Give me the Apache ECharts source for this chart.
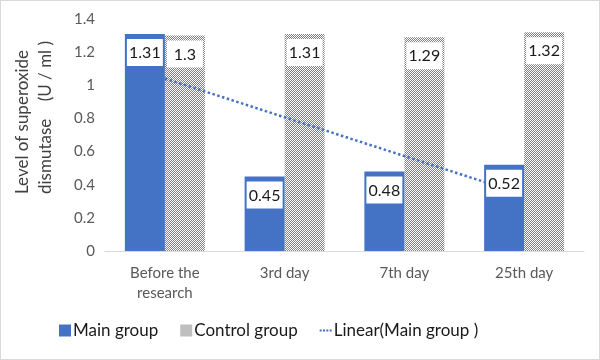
<!DOCTYPE html>
<html><head><meta charset="utf-8">
<script src="https://cdn.jsdelivr.net/npm/echarts@6/dist/echarts.min.js"></script>
<style>
html,body{margin:0;padding:0;background:#fff;}
#c{width:600px;height:360px;box-sizing:border-box;border:1px solid #d9d9d9;}
</style></head>
<body><div id="c"></div>
<script>
const categories = ['Before the\nresearch', '3rd day', '7th day', '25th day'];
const mainValues = [1.31, 0.45, 0.48, 0.52];
const controlValues = [1.3, 1.31, 1.29, 1.32];
const seriesNames = ['Main group', 'Control group', 'Linear(Main group )'];
const yAxisTitle = 'Level of superoxide\ndismutase    (U / ml )';

// least-squares linear trend of the main group
const n = mainValues.length;
const xs = mainValues.map((_, i) => i + 1);
const mx = xs.reduce((a, b) => a + b, 0) / n;
const my = mainValues.reduce((a, b) => a + b, 0) / n;
let sxy = 0, sxx = 0;
for (let i = 0; i < n; i++) { sxy += (xs[i] - mx) * (mainValues[i] - my); sxx += (xs[i] - mx) ** 2; }
const slope = sxy / sxx, icpt = my - slope * mx;
const trendValues = xs.map(x => +(icpt + slope * x).toFixed(4));

// dotted grey pattern
const pc = document.createElement('canvas');
pc.width = 2; pc.height = 2;
const pctx = pc.getContext('2d');
pctx.fillStyle = '#808080'; pctx.fillRect(0, 0, 2, 2);
pctx.fillStyle = '#ffffff'; pctx.fillRect(0, 0, 1, 1); pctx.fillRect(1, 1, 1, 1);
const patternFill = { image: pc, repeat: 'repeat' };

const FONT = 'Lato, "Liberation Sans", sans-serif';
const labelStyle = {
  show: true, position: 'insideTop', distance: 5,
  backgroundColor: '#ffffff', padding: [6, 4, 5, 4], width: 28, align: 'center',
  fontSize: 16, color: '#1a1a1a', fontFamily: FONT
};

const chart = echarts.init(document.getElementById('c'), null, { renderer: 'canvas' });
chart.setOption({
  animation: false,
  textStyle: { fontFamily: FONT },
  grid: { left: 104, right: 15, top: 18, bottom: 108, containLabel: false },
  xAxis: {
    type: 'category', data: categories,
    axisLine: { lineStyle: { color: '#d9d9d9', width: 1 } },
    axisTick: { show: false },
    axisLabel: { interval: 0, color: '#595959', fontSize: 15, lineHeight: 20, margin: 12, fontFamily: FONT }
  },
  yAxis: {
    type: 'value', min: 0, max: 1.4, interval: 0.2,
    axisLine: { show: false }, axisTick: { show: false },
    splitLine: { show: false },
    axisLabel: { color: '#595959', fontSize: 15, margin: 10, fontFamily: FONT }
  },
  legend: {
    bottom: 15, left: 53, itemWidth: 12, itemHeight: 12, itemGap: 22,
    symbolKeepAspect: true,
    textStyle: { fontSize: 17, color: '#1a1a1a', fontFamily: FONT, padding: [0, 0, 0, -3] },
    data: [
      { name: seriesNames[0], icon: 'rect' },
      { name: seriesNames[1], icon: 'rect', itemStyle: { color: patternFill } },
      { name: seriesNames[2], icon: 'path://M0,0h2v2h-2z M3.3,0h2v2h-2z M6.6,0h2v2h-2z M9.9,0h2v2h-2z' }
    ]
  },
  graphic: [{
    type: 'text', x: 10, y: 193, rotation: Math.PI / 2,
    style: { text: yAxisTitle, font: '17px ' + FONT, fill: '#404040', textAlign: 'left', textVerticalAlign: 'top', lineHeight: 23 }
  }],
  series: [
    {
      name: seriesNames[0], type: 'bar', data: mainValues, z: 4,
      barWidth: 40, barGap: '0%',
      itemStyle: { color: '#4472c4' },
      label: labelStyle
    },
    {
      name: seriesNames[1], type: 'bar', data: controlValues, z: 2,
      barWidth: 40, barGap: '0%',
      itemStyle: { color: patternFill },
      label: labelStyle
    },
    {
      name: seriesNames[2], type: 'line', data: trendValues, z: 3,
      symbol: 'none', silent: true,
      lineStyle: { color: '#4472c4', width: 2.5, type: [2.5, 2.5] },
      itemStyle: { color: '#4472c4' }
    }
  ]
});
</script></body></html>
